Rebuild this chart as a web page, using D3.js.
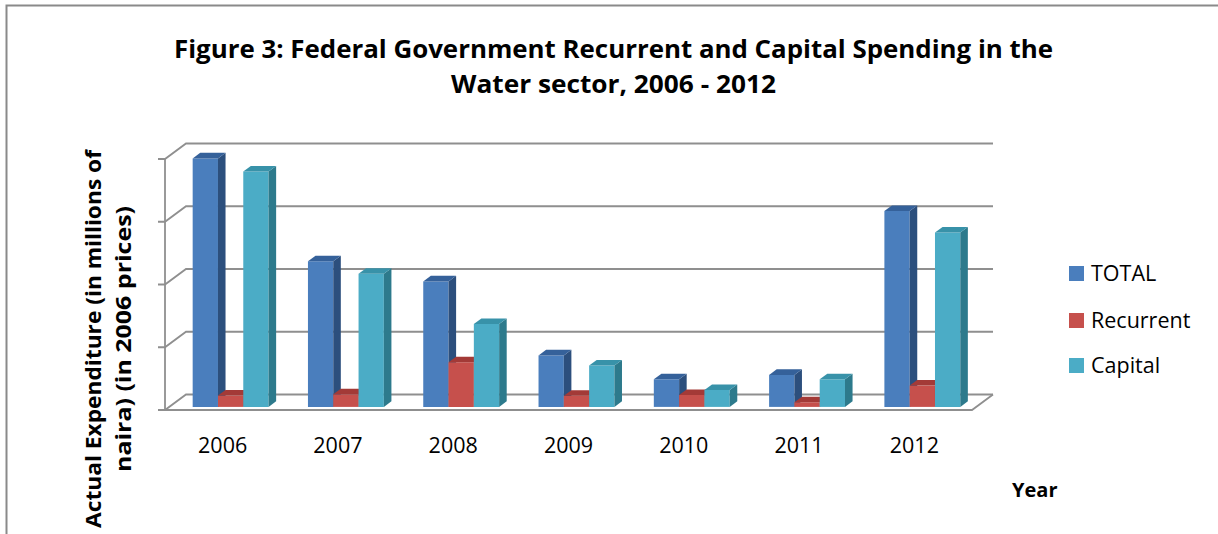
<!DOCTYPE html>
<html>
<head>
<meta charset="utf-8">
<script src="https://cdn.jsdelivr.net/npm/d3@7"></script>
<style>
  html, body { margin: 0; padding: 0; background: #fff; }
  svg { display: block; }
</style>
</head>
<body>
<svg id="chart" width="1218" height="534"></svg>
<script>
// Federal Government water-sector spending (real terms, 2006 prices)
const categories = ["2006", "2007", "2008", "2009", "2010", "2011", "2012"];
const seriesNames = ["TOTAL", "Recurrent", "Capital"];
const totalValues     = [19.8, 11.6, 10.0, 4.1, 2.2, 2.55, 15.6];
const recurrentValues = [0.9, 1.0, 3.55, 0.88, 0.95, 0.37, 1.7];
const capitalValues   = [18.75, 10.6, 6.6, 3.3, 1.35, 2.2, 13.9];
const yTicks = [0, 5, 10, 15, 20];

const seriesValues = [totalValues, recurrentValues, capitalValues];
const palette = {
  TOTAL:     { front: "#4A7EBD", side: "#2C4F7D", top: "#35619A" },
  Recurrent: { front: "#C6504C", side: "#8B3230", top: "#A33A37" },
  Capital:   { front: "#4BACC6", side: "#2D7A8C", top: "#3892A9" }
};

const svg = d3.select("#chart");
const gridColor = "#8f8f8f";

// outer chart frame (top and left edges)
svg.append("path")
  .attr("d", "M6.5,534 L6.5,5.5 L1218,5.5")
  .attr("fill", "none").attr("stroke", "#8a8a8a").attr("stroke-width", 2);

// 3-D plot box: front plane scales plus a depth vector to the back wall
const x = d3.scaleBand().domain(categories).range([165, 972]).padding(0);
const y = d3.scaleLinear().domain([0, 20]).range([410, 159]);
const depth = { dx: 21, dy: -15.5 };
const xLeft = x.range()[0], xRight = x.range()[1];

const grid = svg.append("g").attr("fill", "none")
  .attr("stroke", gridColor).attr("stroke-width", 1.8);

// gridlines: tick, side-wall diagonal, back-wall line
yTicks.forEach(t => {
  const yy = y(t);
  grid.append("path").attr("d",
    `M${xLeft - 7},${yy} L${xLeft},${yy} L${xLeft + depth.dx},${yy + depth.dy} L${xRight + depth.dx},${yy + depth.dy}`);
});
// vertical value axis
grid.append("path").attr("d", `M${xLeft},${y(20)} L${xLeft},${y(0)}`);
// floor front edge and right edge
grid.append("path").attr("d",
  `M${xLeft},${y(0)} L${xRight},${y(0)} L${xRight + depth.dx},${y(0) + depth.dy}`);

// bars
const f0 = 0.2, fd = 0.36;            // front position and thickness in depth
const barW = 25.3;
const groupW = barW * seriesNames.length;
const frontDy = f0 * depth.dy;
const sideDx = fd * depth.dx, sideDy = fd * depth.dy;
const groupShift = (f0 + fd / 2) * depth.dx;

const bars = svg.append("g");
categories.forEach((cat, i) => {
  const cx = x(cat) + x.bandwidth() / 2;
  seriesNames.forEach((name, s) => {
    const v = seriesValues[s][i];
    const c = palette[name];
    const x0 = cx - groupW / 2 + groupShift + s * barW;
    const x1 = x0 + barW;
    const yb = y(0) + frontDy;
    const yt = y(v) + frontDy;
    const g = bars.append("g");
    g.append("path").attr("fill", c.front)
      .attr("d", `M${x0},${yb} L${x0},${yt} L${x1},${yt} L${x1},${yb} Z`);
    g.append("path").attr("fill", c.side)
      .attr("d", `M${x1},${yb} L${x1},${yt} L${x1 + sideDx},${yt + sideDy} L${x1 + sideDx},${yb + sideDy} Z`);
    g.append("path").attr("fill", c.top)
      .attr("d", `M${x0},${yt} L${x0 + sideDx},${yt + sideDy} L${x1 + sideDx},${yt + sideDy} L${x1},${yt} Z`);
  });
});

// category labels
svg.append("g").selectAll("text").data(categories).join("text")
  .attr("x", d => x(d) + x.bandwidth() / 2)
  .attr("y", 453)
  .attr("text-anchor", "middle")
  .attr("font-family", "'Open Sans', sans-serif")
  .attr("font-size", 21.5)
  .attr("fill", "#000")
  .text(d => d);

// title
const titleLines = [
  { text: "Figure 3: Federal Government Recurrent and Capital Spending in the", y: 58, len: 879 },
  { text: "Water sector, 2006 - 2012", y: 93, len: 325 }
];
svg.append("g").selectAll("text").data(titleLines).join("text")
  .attr("x", 613.5).attr("y", d => d.y)
  .attr("text-anchor", "middle")
  .attr("font-family", "'Open Sans', sans-serif")
  .attr("font-weight", "bold")
  .attr("font-size", 25.5)
  .attr("textLength", d => d.len)
  .attr("lengthAdjust", "spacingAndGlyphs")
  .attr("fill", "#000")
  .text(d => d.text);

// value axis title (two rotated lines)
const yTitle = [
  { text: "Actual Expenditure (in millions of", x: 101, len: 378 },
  { text: "naira) (in 2006 prices)", x: 131, len: 266 }
];
svg.append("g").selectAll("text").data(yTitle).join("text")
  .attr("transform", d => `translate(${d.x},339) rotate(-90)`)
  .attr("text-anchor", "middle")
  .attr("font-family", "'Open Sans', sans-serif")
  .attr("font-weight", "bold")
  .attr("font-size", 21)
  .attr("textLength", d => d.len)
  .attr("lengthAdjust", "spacingAndGlyphs")
  .attr("fill", "#000")
  .text(d => d.text);

// category axis title
svg.append("text")
  .attr("x", 1012).attr("y", 497)
  .attr("font-family", "'Open Sans', sans-serif")
  .attr("font-weight", "bold")
  .attr("font-size", 20)
  .attr("fill", "#000")
  .text("Year");

// legend
const legendY = [281, 328, 373];
const legend = svg.append("g").selectAll("g").data(seriesNames).join("g")
  .attr("transform", (d, i) => `translate(1069,${legendY[i]})`);
legend.append("rect")
  .attr("x", 0).attr("y", -15).attr("width", 15).attr("height", 15)
  .attr("fill", d => palette[d].front);
legend.append("text")
  .attr("x", 22).attr("y", 0)
  .attr("font-family", "'Open Sans', sans-serif")
  .attr("font-size", 21.5)
  .attr("fill", "#000")
  .text(d => d);
</script>
</body>
</html>
